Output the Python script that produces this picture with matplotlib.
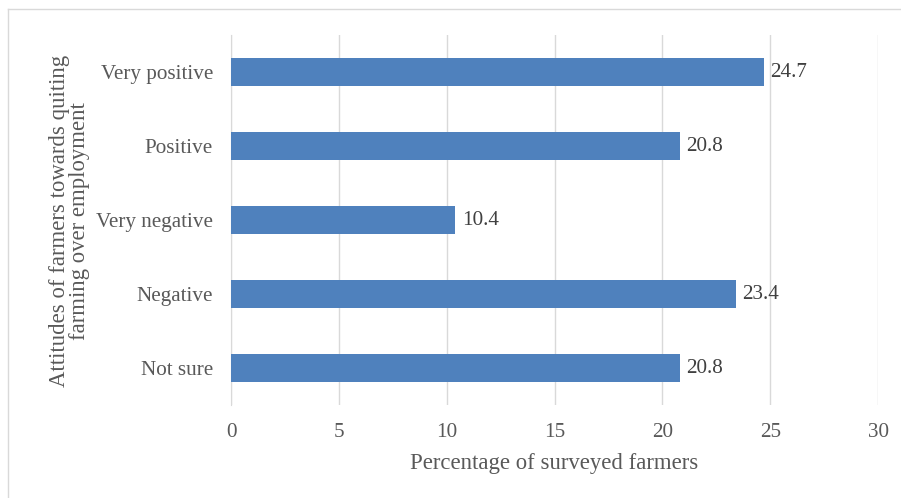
import matplotlib.pyplot as plt
from matplotlib.lines import Line2D

categories = ['Not sure', 'Negative', 'Very negative', 'Positive', 'Very positive']
percentages = [20.8, 23.4, 10.4, 20.8, 24.7]
x_ticks = [0, 5, 10, 15, 20, 25, 30]

plt.rcParams['font.family'] = ['Liberation Serif', 'DejaVu Serif']
text_col = '#595959'

fig = plt.figure(figsize=(9.01, 4.98), dpi=100)
ax = fig.add_axes([0.2564, 0.1867, 0.7181, 0.743])

pos = range(len(categories))
ax.barh(pos, percentages, height=0.38, color='#4F81BD', zorder=3)
for p, v in zip(pos, percentages):
	ax.text(v + 0.3, p, '%.1f' % v, va='center', ha='left', fontsize=15.2, color='#404040')

ax.set_xlim(0, 30)
ax.set_ylim(-0.5, len(categories) - 0.5)
ax.set_xticks(x_ticks)
ax.set_yticks(list(pos))
ax.set_yticklabels(categories)
ax.tick_params(axis='both', length=0, labelsize=15.2, labelcolor=text_col)
ax.tick_params(axis='x', pad=13)
ax.tick_params(axis='y', pad=13)
ax.grid(axis='x', color='#D9D9D9', linewidth=1, zorder=0)
for s in ['top', 'right', 'bottom']:
	ax.spines[s].set_visible(False)
ax.spines['left'].set_color('#D9D9D9')

ax.set_xlabel('Percentage of surveyed farmers', fontsize=16.4, color=text_col)
ax.xaxis.set_label_coords(0.5, -0.13)
ax.set_ylabel('Attitudes of farmers towards quiting\nfarming over employment', fontsize=16.4,
	color=text_col, linespacing=0.95)
ax.yaxis.set_label_coords(-0.218, 0.497)

# chart frame (only top/left edges fall inside the image)
fig.add_artist(Line2D([8/901, 1], [1 - 9/498] * 2, color='#D9D9D9', lw=1, transform=fig.transFigure))
fig.add_artist(Line2D([8/901] * 2, [0, 1 - 9/498], color='#D9D9D9', lw=1, transform=fig.transFigure))

fig.savefig('out.png', dpi=100)
